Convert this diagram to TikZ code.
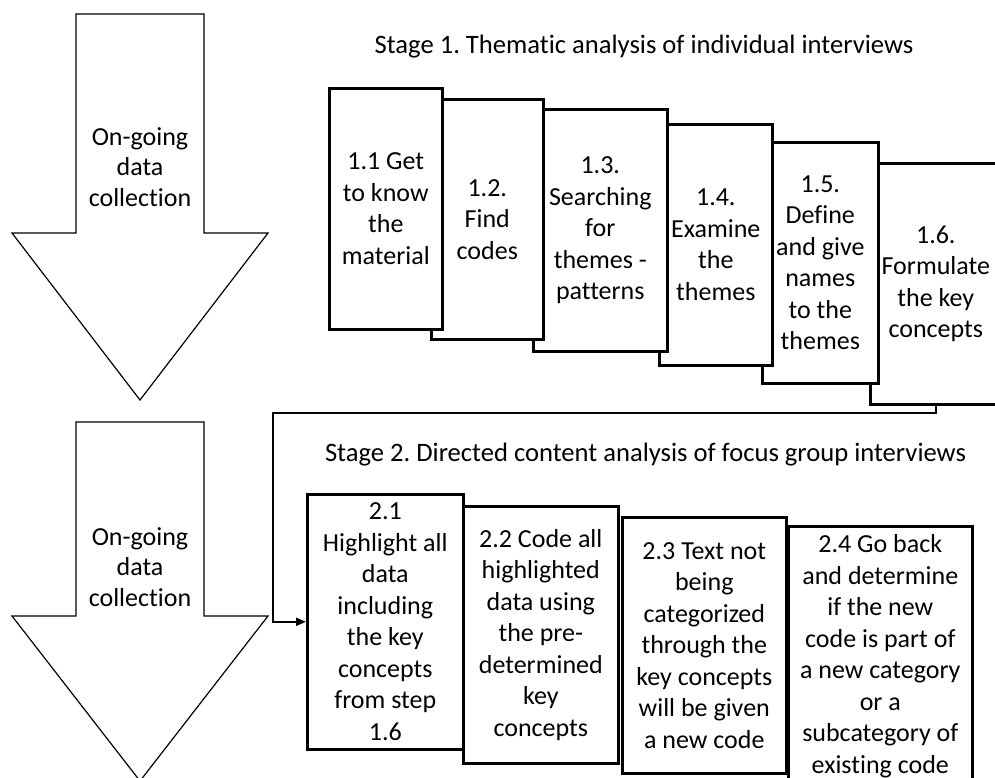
\documentclass[tikz,border=0pt]{standalone}
\usepackage{fontspec}
\setmainfont{Carlito}[Ligatures=NoCommon]
\usetikzlibrary{arrows.meta,calc}
\frenchspacing
\tikzset{
  stepbox/.style={draw=black, line width=2.6pt, fill=white, align=center,
    inner sep=0pt, anchor=north west, font=\fontsize{26}{31.5}\selectfont},
  bigarrow/.style={draw=black, line width=1.2pt, fill=white, line join=miter},
  arrowlabel/.style={align=center, font=\fontsize{26}{30.5}\selectfont},
  stagetitle/.style={font=\fontsize{26.6}{31}\selectfont},
  conn/.style={line width=2pt, -{Triangle[length=10pt,width=8pt]}},
}
\begin{document}
\begin{tikzpicture}[x=1pt,y=-1pt]
\useasboundingbox (0,0) rectangle (995,778);
\clip (0,0) rectangle (995,778);

% data collection arrows
\draw[bigarrow] (76,14) -- (204,14) -- (204,233) -- (268,233) -- (140,400)
  -- (12,233) -- (76,233) -- cycle;
\node[arrowlabel] (dc1) at (140,167) {On-going\\data\\collection};
\draw[bigarrow] (76,422) -- (204,422) -- (204,616) -- (268,616) -- (140,781)
  -- (12,616) -- (76,616) -- cycle;
\node[arrowlabel] (dc2) at (140,567) {On-going\\data\\collection};

% stage 1
\node[stagetitle] (s1) at (644,47) {Stage 1. Thematic analysis of individual interviews};
\node[stepbox, minimum width=131pt, minimum height=241pt] (b16) at (869,162)
  {1.6.\\Formulate\\the key\\concepts};
\node[stepbox, minimum width=116pt, minimum height=241pt] (b15) at (761,141)
  {1.5.\\Define\\and give\\names\\to the\\themes};
\node[stepbox, minimum width=113pt, minimum height=241pt] (b14) at (658,123)
  {1.4.\\Examine\\the\\themes};
\node[stepbox, minimum width=134pt, minimum height=242pt] (b13) at (532,108)
  {1.3.\\Searching\\for\\themes -\\patterns};
\node[stepbox, minimum width=112pt, minimum height=240pt] (b12) at (430,98)
  {1.2.\\Find\\codes};
\node[stepbox, minimum width=113pt, minimum height=241pt] (b11) at (328,87)
  {1.1 Get\\to know\\the\\material};

% stage 2
\node[stagetitle] (s2) at (645.5,455) {Stage 2. Directed content analysis of focus group interviews};
\node[stepbox, minimum width=155pt, minimum height=257pt] (b22) at (462,505)
  {2.2 Code all\\highlighted\\data using\\the pre-\\determined\\key\\concepts};
\node[stepbox, minimum width=156pt, minimum height=255pt] (b21) at (306,493)
  {2.1\\Highlight all\\data\\including\\the key\\concepts\\from step\\1.6};
\node[stepbox, minimum width=164pt, minimum height=256pt] (b23) at (621,516)
  {2.3 Text not\\being\\categorized\\through the\\key concepts\\will be given\\a new code};
\node[stepbox, minimum width=184pt, minimum height=260pt] (b24) at (787,525)
  {2.4 Go back\\and determine\\if the new\\code is part of\\a new category\\or a\\subcategory of\\existing code};

% link from stage 1 to stage 2
\draw[conn] (b16.south) -- ++(0,7) coordinate (c1)
  -| ($(b21.west)+(-33,0)$) -- (b21.west);
\end{tikzpicture}
\end{document}
